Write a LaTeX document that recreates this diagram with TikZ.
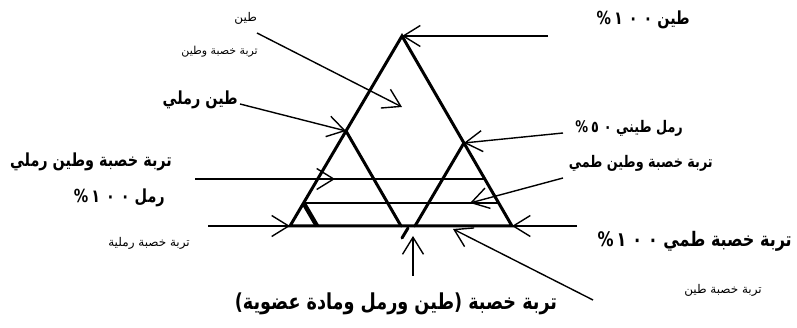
\documentclass[tikz,border=0pt]{standalone}
\usepackage{fontspec}
\usetikzlibrary{arrows.meta, calc}
\newfontfamily\arabicfont[Script=Arabic, FakeStretch=0.8]{DejaVu Sans}
\newfontfamily\arabiclight[Script=Arabic]{DejaVu Sans}
\TeXXeTstate=1
\newcommand{\artext}[1]{\beginR #1\endR}
\newcommand{\pcent}[1]{\beginL\%\kern3pt #1\endL}

\tikzset{
    soilside/.style={line width=3pt, line cap=round},
    soilrow/.style={line width=2.4pt},
    pointer/.style={line width=1.4pt, -{Straight Barb[length=17pt, width=21pt, line width=1.4pt]}},
    bigtag/.style={font=\arabicfont\bfseries\fontsize{18}{21}\selectfont, inner sep=0pt, anchor=east},
    smalltag/.style={font=\arabiclight\fontsize{12}{14}\selectfont, inner sep=0pt, anchor=east}
}

\begin{document}
\begin{tikzpicture}[x=1pt, y=-1pt]
    \useasboundingbox (0,0) rectangle (797,328);

    \coordinate (apex) at (402,36);
    \coordinate (sandc) at (290,226);
    \coordinate (siltc) at (512,226);
    \coordinate (lmid) at ($(apex)!0.5!(sandc)$);
    \coordinate (rmid) at ($(apex)!0.563!(siltc)$);
    \coordinate (bmid) at ($(sandc)!0.5!(siltc)$);
    \coordinate (rfoot) at (415,226);
    \coordinate (rowAl) at ($(apex)!0.753!(sandc)$);
    \coordinate (rowAr) at ($(apex)!0.753!(siltc)$);
    \coordinate (rowBl) at ($(apex)!0.879!(sandc)$);
    \coordinate (rowBr) at ($(apex)!0.879!(siltc)$);
    \coordinate (wedge) at (317,226);

    \draw[soilside] (sandc) -- (apex) -- (siltc) -- cycle;
    \draw[soilside] (lmid) -- (bmid);
    \draw[soilside] (rmid) -- (rfoot);
    \draw[soilside] (408,228) -- (402,238);
    \draw[soilrow] (rowAl) -- (rowAr);
    \draw[soilrow] (rowBl) -- (rowBr);
    \draw[line width=4.5pt] (rowBl) -- (wedge);

    \node[smalltag] (clay) at (257,18) {\artext{طين}};
    \node[smalltag, font=\arabiclight\fontsize{11}{13}\selectfont] (clayfert) at (258,52) {\artext{تربة خصبة وطين}};
    \node[bigtag] (sandyclay) at (238,100) {\artext{طين رملي}};
    \node[bigtag] (fertsandyclay) at (172,162) {\artext{تربة خصبة وطين رملي}};
    \node[bigtag] (sand) at (165,198) {\artext{رمل \pcent{١\kern6pt٠\kern6pt٠}}};
    \node[smalltag] (sandfert) at (190,243) {\artext{تربة خصبة رملية}};
    \node[bigtag] (clayfull) at (690,20) {\artext{طين \pcent{١\kern6pt٠\kern6pt٠}}};
    \node[bigtag, font=\arabicfont\bfseries\fontsize{16}{19}\selectfont] (clayeysand) at (683,128) {\artext{رمل طيني \pcent{٥\kern5pt٠}}};
    \node[bigtag, font=\arabicfont\bfseries\fontsize{16}{19}\selectfont] (fertsiltclay) at (713,163) {\artext{تربة خصبة وطين طمي}};
    \node[bigtag, font=\arabicfont\bfseries\fontsize{20}{23}\selectfont] (siltfull) at (792,241) {\artext{تربة خصبة طمي \pcent{١\kern6pt٠\kern6pt٠}}};
    \node[smalltag] (fertclay) at (762,290) {\artext{تربة خصبة طين}};
    \node[bigtag, anchor=center, font=\arabicfont\bfseries\fontsize{22}{25}\selectfont] (loam) at (396,304) {\artext{تربة خصبة (طين ورمل ومادة عضوية)}};

    \coordinate (s1) at (257,33);
    \coordinate (t1) at (402,107);
    \coordinate (s2) at (240,104);
    \coordinate (s3) at (195,179);
    \coordinate (t3) at (335,179);
    \coordinate (s4) at (208,226);
    \coordinate (s5) at (548,36);
    \coordinate (s6) at (563,133);
    \coordinate (s7) at (563,178);
    \coordinate (t7) at (470,203);
    \coordinate (s8) at (577,226);
    \coordinate (s9) at (593,300);
    \coordinate (t9) at (453,229);
    \coordinate (s10) at (413,276);
    \coordinate (t10) at (413,236);

    \draw[pointer] (s1) -- (t1);
    \draw[pointer] (s2) -- (lmid);
    \draw[pointer] (s3) -- (t3);
    \draw[pointer] (s4) -- (sandc);
    \draw[pointer] (s5) -- (apex);
    \draw[pointer] (s6) -- (rmid);
    \draw[pointer] (s7) -- (t7);
    \draw[pointer] (s8) -- (siltc);
    \draw[pointer] (s9) -- (t9);
    \draw[pointer] (s10) -- (t10);
\end{tikzpicture}
\end{document}
